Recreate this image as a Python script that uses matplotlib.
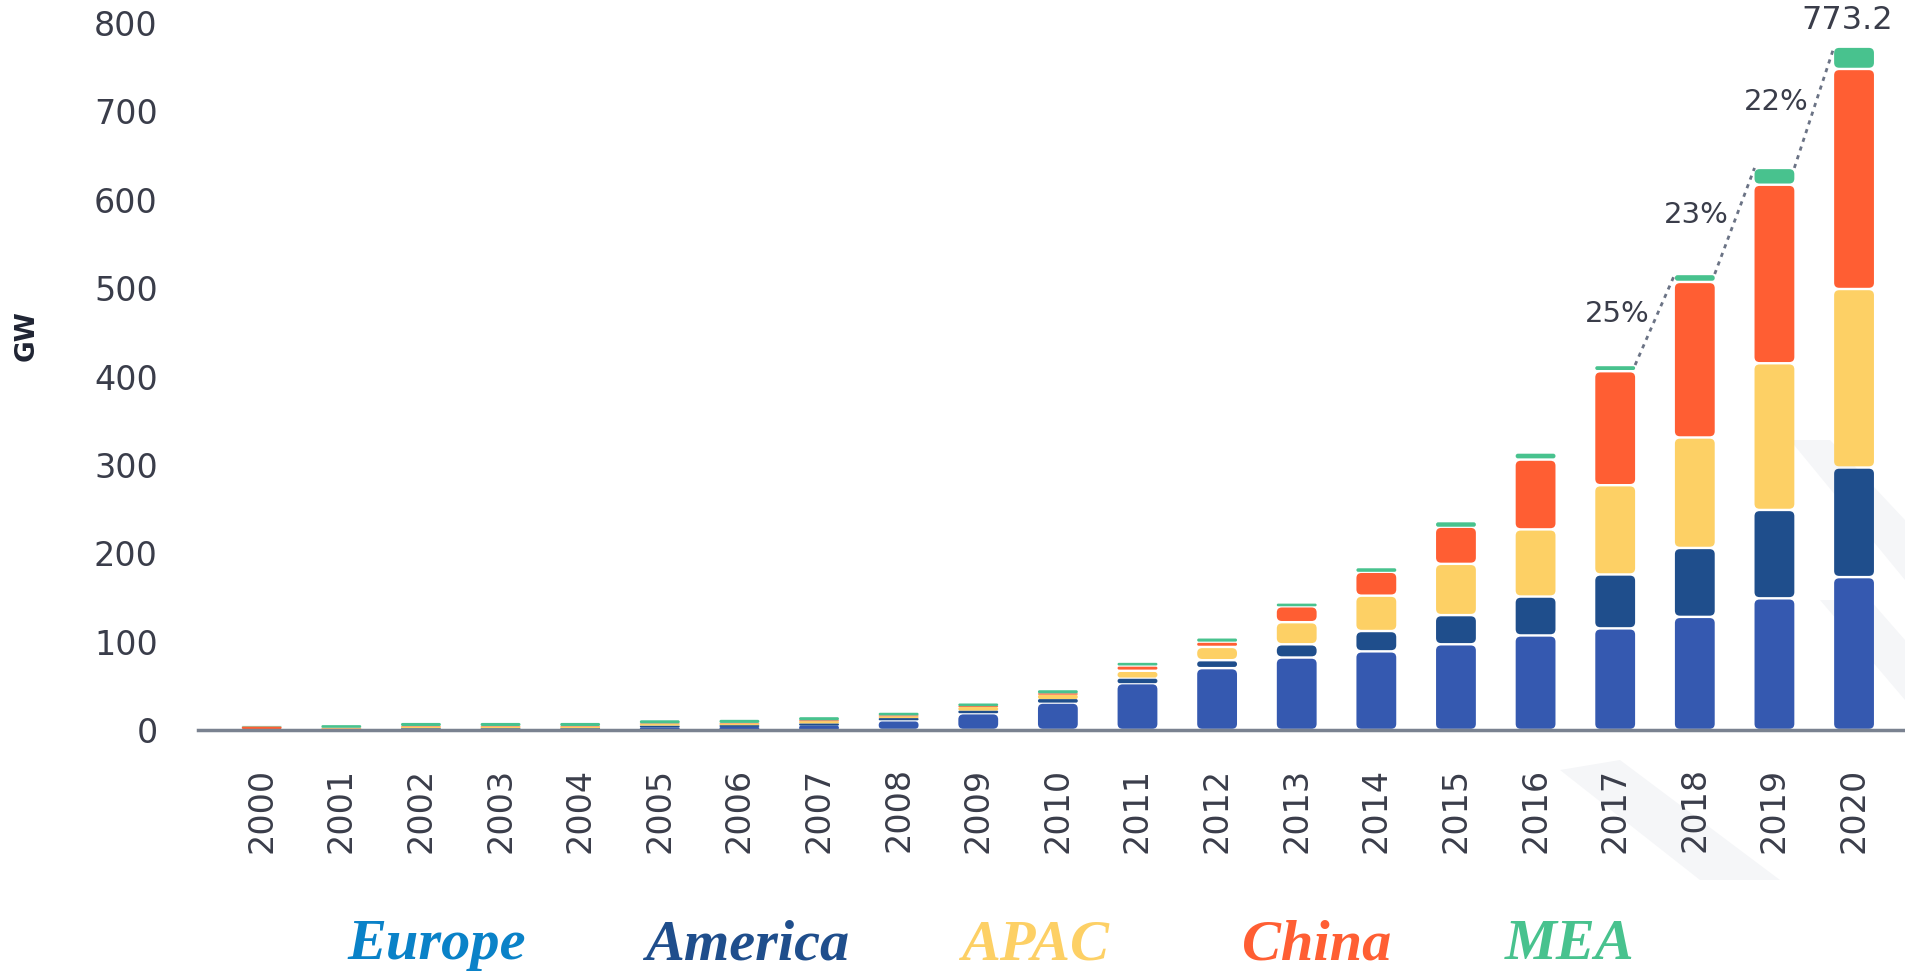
import matplotlib
matplotlib.use("Agg")
import matplotlib.pyplot as plt
from matplotlib.patches import FancyBboxPatch, Polygon
import numpy as np

years = [str(y) for y in range(2000, 2021)]
regions = ["Europe", "America", "APAC", "China", "MEA"]

# cumulative installed capacity, GW
europe = [0.3, 0.5, 1.0, 1.0, 1.0, 3.0, 3.5, 5.0, 11, 19, 31, 53, 70, 82, 89, 97, 107, 115, 128, 149, 173]
america = [0.3, 0.5, 1.0, 1.0, 1.0, 2.0, 2.0, 2.5, 2.5, 3.0, 4.0, 5, 9, 15, 23, 33, 44, 61, 78, 100, 124]
apac = [0.5, 1.0, 2.0, 2.0, 2.0, 2.0, 2.0, 2.5, 2.0, 4.0, 5.0, 9, 15, 25, 40, 58, 76, 101, 125, 166, 202]
china = [3.0, 0.5, 0.5, 0.5, 0.5, 0.5, 0.5, 1.0, 1.0, 1.0, 1.5, 6, 6, 18, 27, 42, 79, 129, 176, 202, 249]
mea = [0.5, 3.0, 3.5, 3.5, 3.5, 3.5, 3.5, 3.5, 3.0, 3.0, 3.5, 3, 3.5, 3, 4, 5, 8, 7, 9, 19, 25.2]

growth_labels = ["25%", "23%", "22%"]
final_label = "773.2"

bar_colors = ["#3559b0", "#1f4e8c", "#fdd065", "#ff5e33", "#48c28e"]
legend_colors = ["#0a82c8", "#1f4e8c", "#fdd065", "#ff5e33", "#48c28e"]
text_color = "#3a3d4a"

fig = plt.figure(figsize=(19.05, 9.74), dpi=100)

# faint diagonal stripes behind everything (watermark)
bg = fig.add_axes([0, 0, 1, 1], zorder=-1)
bg.set_xlim(0, 1905)
bg.set_ylim(974, 0)
bg.axis("off")
for pts in ([(1790, 440), (1830, 440), (1905, 520), (1905, 580)],
            [(1560, 770), (1620, 760), (1780, 880), (1700, 880)],
            [(1820, 600), (1870, 600), (1905, 640), (1905, 700)]):
    bg.add_patch(Polygon(pts, closed=True, facecolor="#f5f6f8", edgecolor="none"))

ax = fig.add_axes([198 / 1905, 244 / 974, 1 - 198 / 1905, (730 - 23) / 974])
ax.patch.set_alpha(0)

x = np.arange(len(years))
data = np.array([europe, america, apac, china, mea])
bottom = np.zeros(len(years))
containers = []
for vals, col in zip(data, bar_colors):
    bc = ax.bar(x, vals, bottom=bottom, width=0.5, color=col)
    containers.append(bc)
    bottom = bottom + vals
totals = bottom

ax.set_xlim(-0.8, 20.64)
ax.set_ylim(0, 800)

# swap plain rectangles for rounded segments with small white gaps
fig.canvas.draw()
px = ax.transData.transform([(0, 0), (1, 100)])
x_per_px = 1 / (px[1, 0] - px[0, 0])
y_per_px = 100 / (px[1, 1] - px[0, 1])
aspect = y_per_px / x_per_px
for bc in containers:
    for rect in bc:
        rx, ry = rect.get_x(), rect.get_y()
        rw, rh = rect.get_width(), rect.get_height()
        rect.set_visible(False)
        if rh <= 0:
            continue
        gap = 1.2 * y_per_px
        if rh > 4 * gap:
            ry, rh = ry + gap, rh - 2 * gap
        r = min(5 * x_per_px, rh / aspect / 2 * 0.95)
        ax.add_patch(FancyBboxPatch((rx, ry), rw, rh,
                                    boxstyle=f"round,pad=0,rounding_size={r}",
                                    mutation_aspect=aspect,
                                    facecolor=rect.get_facecolor(),
                                    edgecolor="none", zorder=2))

# dotted growth line between the last bars
for i, lab in zip(range(17, 20), growth_labels):
    x0, x1 = i + 0.25, i + 0.75
    y0, y1 = totals[i], totals[i + 1]
    ax.plot([x0, x1], [y0, y1], color="#6b7385", lw=2, ls=(0, (1.5, 1.8)), zorder=3)
    ax.annotate(lab, ((x0 + x1) / 2, (y0 + y1) / 2), xytext=(-4, 4),
                textcoords="offset points", ha="right", va="center",
                fontsize=21, color=text_color)

ax.annotate(final_label, (x[-1], totals[-1]), xytext=(-5, 8),
            textcoords="offset points", ha="center", va="bottom",
            fontsize=23, color=text_color, annotation_clip=False)

for s in ["top", "right", "left"]:
    ax.spines[s].set_visible(False)
ax.spines["bottom"].set_color("#7a8290")
ax.spines["bottom"].set_linewidth(2.5)

ax.set_xticks(x)
ax.set_xticklabels(years, rotation=90, fontsize=24, color=text_color)
ax.set_yticks(np.arange(0, 801, 100))
ax.tick_params(axis="y", length=0, pad=29, labelsize=24, labelcolor=text_color)
ax.tick_params(axis="x", length=0, pad=27)
fig.text(27 / 1905, 1 - 336 / 974, "GW", rotation=90, ha="center", va="center",
         fontsize=19, fontweight="bold", color="#1f2433")

# legend as coloured words
legend_x = [437, 747, 1035, 1317, 1570]
for name, col, lx in zip(regions, legend_colors, legend_x):
    fig.text(lx / 1905, 1 - 945 / 974, name, ha="center", va="center",
             fontsize=42, fontweight="bold", style="italic",
             family="Liberation Serif", color=col)

fig.savefig("out.png", dpi=100)
